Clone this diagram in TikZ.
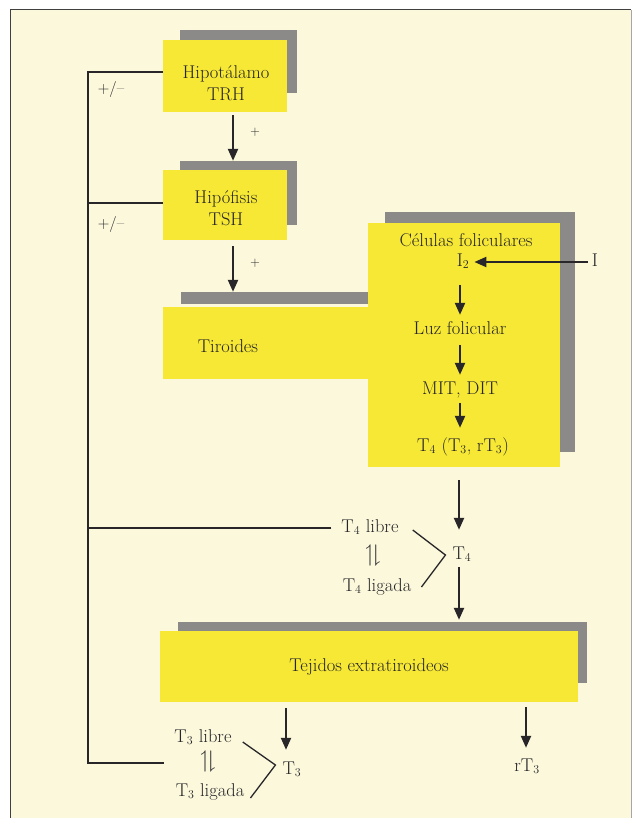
\documentclass[tikz,border=0pt]{standalone}
\usepackage{amssymb}
\usetikzlibrary{arrows.meta,calc}
\definecolor{cream}{RGB}{251,248,220}
\definecolor{boxy}{RGB}{246,232,52}
\definecolor{shad}{RGB}{140,138,136}
\definecolor{ink}{RGB}{40,38,40}
\begin{document}
\begin{tikzpicture}[x=1pt,y=-1pt,
  font=\fontsize{18.5}{22}\selectfont,
  arr/.style={line width=2.2pt,draw=ink,-{Triangle[width=10pt,length=12pt]}},
  fb/.style={line width=1.3pt,draw=ink},
  ybox/.style={fill=boxy,draw=none,inner sep=0pt},
  sbox/.style={fill=shad,draw=none,inner sep=0pt},
  lbl/.style={inner sep=0pt,align=center,text=ink},
  tl/.style={lbl,text height=12pt,text depth=4pt},
  small/.style={lbl,font=\fontsize{13}{15}\selectfont},
  pmst/.style={lbl,font=\fontsize{16}{18}\selectfont},
  eqs/.style={lbl,font=\fontsize{24}{24}\selectfont}]
\useasboundingbox (0,0) rectangle (634,818);
\fill[white] (0,0) rectangle (634,818);
\fill[cream] (10,10) rectangle (631,818);
\draw[line width=1pt,black!75] (10,818) -- (10,10) -- (631,10);
\draw[line width=0.6pt,black!35] (631,10) -- (631,818);

% Hipotalamo
\node[sbox,minimum width=117pt,minimum height=63pt] (hipsh) at (238.5,61.5) {};
\node[ybox,minimum width=124pt,minimum height=72pt] (hipbox) at (225,76) {};
\node[lbl] (hiptxt) at (226,83) {Hipotálamo\\TRH};
% Hipofisis
\node[sbox,minimum width=117pt,minimum height=64pt] (hipfsh) at (238.5,193) {};
\node[ybox,minimum width=124pt,minimum height=70pt] (hipfbox) at (225,205) {};
\node[lbl] (hipftxt) at (226,208) {Hipófisis\\TSH};
% Tiroides
\node[sbox,minimum width=190pt,minimum height=240pt] (bigsh) at (480,332) {};
\node[sbox,minimum width=204pt,minimum height=12pt] (tirsh) at (283,298) {};
\node[ybox,minimum width=207pt,minimum height=72pt] (tirbox) at (266.5,343) {};
\node[ybox,minimum width=192pt,minimum height=244pt] (bigbox) at (464,345) {};
\node[lbl] (tirtxt) at (228,346) {Tiroides};
\node[tl] (cel) at (466,243) {Células foliculares};
\node[tl] (itwo) at (463,262) {I$_2$};
\node[tl] (iext) at (595,262) {I};
\node[tl] (luz) at (460,330) {Luz folicular};
\node[tl] (mit) at (460,390) {MIT, DIT};
\node[tl] (tfl) at (463,447) {T$_4$ (T$_3$, rT$_3$)};
% T4
\node[tl] (tfour) at (462,555) {T$_4$};
\node[tl] (t4lib) at (370,528) {T$_4$ libre};
\node[eqs] (eq4) at (373,556) {$\upharpoonleft\!\downharpoonright$};
\node[tl] (t4lig) at (377,587) {T$_4$ ligada};
% Tejidos
\node[sbox,minimum width=409pt,minimum height=61pt] (tejsh) at (382.5,652.5) {};
\node[ybox,minimum width=418pt,minimum height=71pt,text=ink] (tejbox) at (369,666.5) {Tejidos extratiroideos};
% bottom
\node[tl] (tthree) at (292,770) {T$_3$};
\node[tl] (rtthree) at (527,767) {rT$_3$};
\node[tl] (t3lib) at (203,738) {T$_3$ libre};
\node[eqs] (eq3) at (208,762) {$\upharpoonleft\!\downharpoonright$};
\node[tl] (t3lig) at (210,792) {T$_3$ ligada};
% labels
\node[pmst] (pm1) at (111,90) {+/--};
\node[pmst] (pm2) at (111,225) {+/--};
\node[small] (pl1) at (255,132) {+};
\node[small] (pl2) at (255,263) {+};

% arrows
\draw[arr] ($(hipbox.south)+(8,3)$) -- ($(hipfsh.north)+(-5.5,0)$);
\draw[arr] ($(hipfbox.south)+(8,6)$) -- ($(tirsh.north)+(-50,0)$);
\draw[arr] ($(iext.west)+(-4,0)$) -- ($(itwo.east)+(5,0)$);
\draw[arr] ($(itwo.south)+(-3,15)$) -- ($(luz.north)+(0,-7)$);
\draw[arr] ($(luz.south)+(0,7)$) -- ($(mit.north)+(0,-7)$);
\draw[arr] ($(mit.south)+(0,5)$) -- ($(tfl.north)+(-3,-11)$);
\draw[arr] ($(bigbox.south -| tfour.north)+(-3,13)$) -- ($(tfour.north)+(-3,-17)$);
\draw[arr] ($(tfour.south)+(-3,4)$) -- ($(tejsh.north -| tfour.south)+(-3,-2)$);
\draw[arr] ($(tejbox.south -| tthree.north)+(-6,6)$) -- ($(tthree.north)+(-6,-12)$);
\draw[arr] ($(tejbox.south -| rtthree.north)+(-1,5)$) -- ($(rtthree.north)+(-1,-11)$);
% brackets
\draw[line width=1.3pt,ink] ($(t4lib.east)+(14,2)$) -- ($(tfour.west)+(-7,0)$) -- ($(t4lig.east)+(10,0)$);
\draw[line width=1.3pt,ink] ($(t3lib.east)+(11,4)$) -- ($(tthree.west)+(-7,-5)$) -- ($(t3lig.east)+(6,6)$);
% feedback
\coordinate (fbx) at (88,72);
\draw[fb] ($(hipbox.west)+(0,-4)$) -- (fbx) |- ($(t3lib.west |- eq3)+(-10,1)$);
\draw[fb] ($(hipfbox.west)+(0,-2)$) -- ++(-75,0);
\draw[fb] ($(t4lib.west)+(-10,0)$) -- (fbx |- t4lib.west);
\end{tikzpicture}
\end{document}
